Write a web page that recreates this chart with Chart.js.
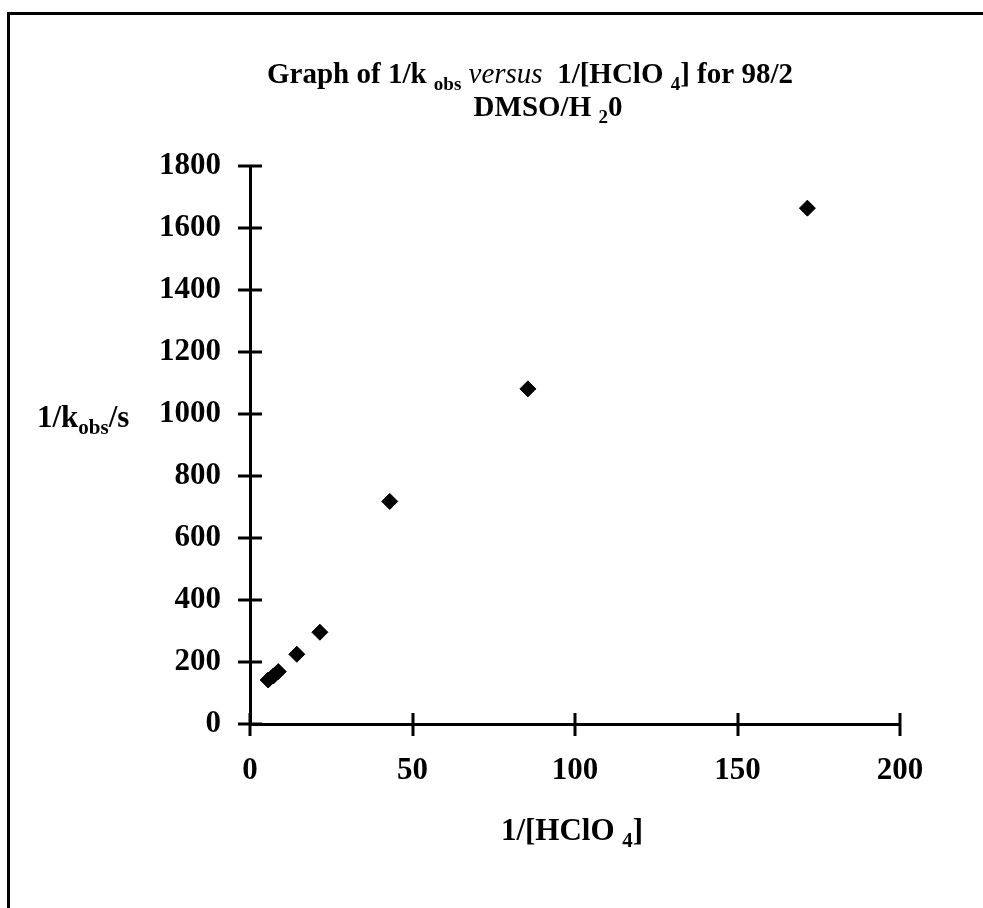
<!DOCTYPE html>
<html>
<head>
<meta charset="utf-8">
<script src="https://cdn.jsdelivr.net/npm/chart.js@4.4.1/dist/chart.umd.min.js"></script>
<style>
  html, body { margin: 0; padding: 0; background: #fff; }
  #wrap { position: relative; width: 983px; height: 908px; overflow: hidden; }
  #chart1 { position: absolute; left: 0; top: 0; }
  #frame { position: absolute; left: 7px; top: 12px; right: -5px; bottom: -5px;
           border-top: 3px solid #000; border-left: 3px solid #000; pointer-events: none; }
</style>
</head>
<body>
<div id="wrap">
  <canvas id="chart1" width="983" height="908"></canvas>
  <div id="frame"></div>
</div>
<script>
// 1/[HClO4] and 1/kobs
const invAcid = [5.6, 7.2, 8.7, 14.4, 21.5, 43, 85.5, 171.5];
const invKobs = [142, 155, 169, 225, 296, 718, 1081, 1664];
const xTicks = [0, 50, 100, 150, 200];
const yTicks = [0, 200, 400, 600, 800, 1000, 1200, 1400, 1600, 1800];

const serif = '"Liberation Serif", "Times New Roman", serif';

function fontOf(r) {
    return (r.italic ? 'italic ' : '') + (r.bold === false ? '400 ' : 'bold ') + (r.size || 31) + 'px ' + serif;
}
const sub = (t, size) => ({ t: t, size: size || 21, dy: 7 });

function drawRuns(ctx, runs, x, y, align) {
    let w = 0;
    runs.forEach(r => { ctx.font = fontOf(r); r.w = ctx.measureText(r.t).width; w += r.w; });
    let cx = align === 'center' ? x - w / 2 : x;
    runs.forEach(r => {
        ctx.font = fontOf(r);
        ctx.fillText(r.t, cx, y + (r.dy || 0));
        cx += r.w;
    });
}

// tick marks that cross the axis lines, plus the rich-text labels
const crossTicks = {
    id: 'crossTicks',
    afterDraw(chart) {
        const ctx = chart.ctx;
        const area = chart.chartArea;
        const xs = chart.scales.x, ys = chart.scales.y;
        ctx.save();
        ctx.strokeStyle = '#000';
        ctx.lineWidth = 3;
        ctx.beginPath();
        ys.ticks.forEach(t => {
            const py = Math.round(ys.getPixelForValue(t.value));
            ctx.moveTo(area.left - 12, py);
            ctx.lineTo(area.left + 12, py);
        });
        xs.ticks.forEach(t => {
            const px = Math.round(xs.getPixelForValue(t.value));
            ctx.moveTo(px, area.bottom - 11);
            ctx.lineTo(px, area.bottom + 12);
        });
        ctx.stroke();

        ctx.fillStyle = '#000';
        ctx.textBaseline = 'alphabetic';
        ctx.textAlign = 'left';
        drawRuns(ctx, [
            { t: 'Graph of 1/k ', size: 29 }, sub('obs', 19), { t: ' versus ', italic: true, bold: false, size: 29 },
            { t: ' 1/[HClO ', size: 29 }, sub('4', 19), { t: '] for 98/2', size: 29 }
        ], 530, 83, 'center');
        drawRuns(ctx, [{ t: 'DMSO/H ', size: 29 }, sub('2', 19), { t: '0', size: 29 }], 548, 116, 'center');

        drawRuns(ctx, [{ t: '1/k' }, sub('obs'), { t: '/s' }], 37, ys.getPixelForValue(1000) + 13, 'left');
        drawRuns(ctx, [{ t: '1/[HClO ' }, sub('4'), { t: ']' }], (area.left + area.right) / 2 - 3, area.bottom + 116, 'center');
        ctx.restore();
    }
};

const ctx = document.getElementById('chart1');
const chart1 = new Chart(ctx, {
    type: 'scatter',
    data: {
        datasets: [{
            data: invAcid.map((v, i) => ({ x: v, y: invKobs[i] })),
            pointStyle: 'rectRot',
            pointRadius: 8,
            pointHoverRadius: 8,
            pointBorderWidth: 1,
            backgroundColor: '#000',
            borderColor: '#000'
        }]
    },
    options: {
        responsive: false,
        animation: false,
        layout: {
            padding: { top: 166, right: 83, left: 0, bottom: 0 }
        },
        scales: {
            x: {
                type: 'linear',
                min: 0,
                max: 200,
                afterBuildTicks: s => { s.ticks = xTicks.map(v => ({ value: v })); },
                afterFit: s => { s.height = 184; },
                grid: { display: false, drawTicks: false, tickLength: 0 },
                border: { display: true, color: '#000', width: 3 },
                ticks: {
                    color: '#000',
                    padding: 28,
                    maxRotation: 0,
                    callback: v => String(v),
                    font: { family: serif, size: 31, weight: 'bold' }
                }
            },
            y: {
                type: 'linear',
                min: 0,
                max: 1800,
                afterBuildTicks: s => { s.ticks = yTicks.map(v => ({ value: v })); },
                afterFit: s => { s.width = 250; },
                grid: { display: false, drawTicks: false, tickLength: 0 },
                border: { display: true, color: '#000', width: 3 },
                ticks: {
                    color: '#000',
                    padding: 29,
                    callback: v => String(v),
                    font: { family: serif, size: 31, weight: 'bold' }
                }
            }
        },
        plugins: {
            legend: { display: false },
            tooltip: { enabled: false }
        }
    },
    plugins: [crossTicks]
});
</script>
</body>
</html>
